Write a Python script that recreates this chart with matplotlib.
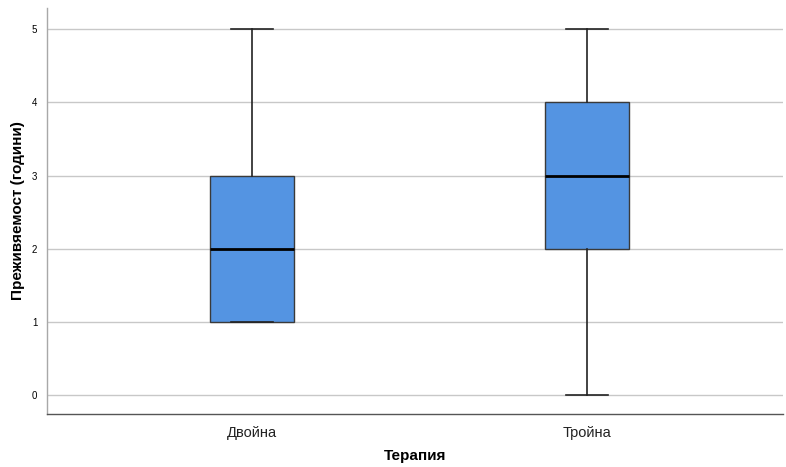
import matplotlib
matplotlib.use("Agg")
import matplotlib.pyplot as plt

# Survival (years) by therapy type
categories = ["Двойна", "Тройна"]
whisker_low = [1, 0]
q1 = [1, 2]
median = [2, 3]
q3 = [3, 4]
whisker_high = [5, 5]
y_ticks = [0, 1, 2, 3, 4, 5]

plt.rcParams["font.family"] = ["Liberation Sans", "DejaVu Sans"]

fig = plt.figure(figsize=(7.86, 4.67), dpi=100)
ax = fig.add_axes([47 / 786, 53 / 467, 736 / 786, 406 / 467])

stats = []
for i, name in enumerate(categories):
    stats.append({
        "label": name,
        "whislo": whisker_low[i],
        "q1": q1[i],
        "med": median[i],
        "q3": q3[i],
        "whishi": whisker_high[i],
        "fliers": [],
    })

positions = list(range(len(categories)))
ax.bxp(
    stats,
    positions=positions,
    widths=0.25,
    patch_artist=True,
    showfliers=False,
    boxprops=dict(facecolor="#5494E2", edgecolor="#3a3a3a", linewidth=1.0),
    medianprops=dict(color="black", linewidth=2.0),
    whiskerprops=dict(color="#222222", linewidth=1.2),
    capprops=dict(color="#222222", linewidth=1.2),
    capwidths=0.125,
    zorder=3,
)

ax.set_xlim(-0.612, 1.585)
ax.set_ylim(-0.26, 5.29)
ax.set_yticks(y_ticks)
ax.set_yticklabels([str(v) for v in y_ticks], fontsize=7)
ax.set_xticks(positions)
ax.set_xticklabels(categories, fontsize=10.5, color="#222222")
ax.tick_params(axis="both", length=0)
ax.tick_params(axis="y", pad=7)
ax.tick_params(axis="x", pad=9)

ax.yaxis.grid(True, color="#c8c8c8", linewidth=1.0, zorder=0)
ax.set_axisbelow(True)

for side in ("top", "right"):
    ax.spines[side].set_visible(False)
ax.spines["left"].set_color("#a8a8a8")
ax.spines["left"].set_linewidth(1.0)
ax.spines["bottom"].set_color("#555555")
ax.spines["bottom"].set_linewidth(1.0)

ax.set_ylabel("Преживяемост (години)", fontsize=11, fontweight="bold", labelpad=5)
ax.set_xlabel("Терапия", fontsize=11, fontweight="bold", labelpad=6)

fig.savefig("out.png", dpi=100)
